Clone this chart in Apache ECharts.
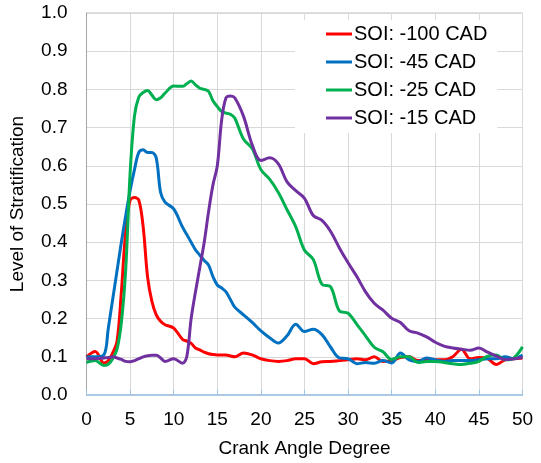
<!DOCTYPE html>
<html>
<head>
<meta charset="utf-8">
<script src="https://cdn.jsdelivr.net/npm/echarts@6/dist/echarts.min.js"></script>
<style>html,body{margin:0;padding:0;background:#fff;}#c{width:541px;height:463px;}</style>
</head>
<body>
<div id="c"></div>
<script>
var seriesNames = ['SOI: -100 CAD', 'SOI: -45 CAD', 'SOI: -25 CAD', 'SOI: -15 CAD'];
var cad = [0,1,2,2.5,3,3.5,4,4.5,5,5.5,6,6.5,7,7.5,8,8.5,9,10,11,11.5,12,12.5,13,13.5,14,14.5,15,15.5,16,16.5,17,18,19,20,21,22,23,24,25,26,27,28,29,30,31,32,33,34,35,36,37,38,39,40,41,42,43,44,45,46,47,48,49,50];
var soi100 = [0.10,0.114,0.084,0.09,0.11,0.14,0.27,0.43,0.51,0.517,0.51,0.44,0.31,0.245,0.21,0.193,0.184,0.175,0.146,0.141,0.135,0.123,0.118,0.112,0.108,0.106,0.105,0.105,0.105,0.102,0.10,0.11,0.105,0.095,0.09,0.088,0.09,0.095,0.095,0.082,0.087,0.088,0.09,0.092,0.095,0.092,0.10,0.088,0.09,0.098,0.10,0.09,0.092,0.092,0.092,0.10,0.12,0.095,0.098,0.095,0.08,0.092,0.095,0.097];
var soi45 = [0.10,0.10,0.105,0.175,0.25,0.325,0.40,0.47,0.535,0.59,0.635,0.642,0.635,0.635,0.62,0.53,0.505,0.487,0.44,0.42,0.40,0.38,0.366,0.352,0.34,0.31,0.288,0.28,0.27,0.25,0.23,0.21,0.19,0.168,0.15,0.136,0.155,0.185,0.166,0.172,0.158,0.125,0.097,0.095,0.082,0.085,0.083,0.09,0.084,0.11,0.092,0.088,0.097,0.092,0.088,0.09,0.09,0.09,0.092,0.095,0.095,0.10,0.095,0.105];
var soi25 = [0.085,0.09,0.077,0.08,0.095,0.12,0.19,0.33,0.58,0.73,0.78,0.792,0.797,0.785,0.773,0.778,0.79,0.809,0.808,0.815,0.822,0.812,0.803,0.80,0.795,0.77,0.755,0.742,0.738,0.735,0.725,0.67,0.645,0.59,0.565,0.53,0.485,0.44,0.379,0.355,0.29,0.283,0.22,0.214,0.185,0.155,0.125,0.113,0.093,0.10,0.10,0.085,0.088,0.088,0.085,0.082,0.08,0.083,0.088,0.102,0.105,0.092,0.097,0.126];
var soi15 = [0.095,0.095,0.097,0.098,0.10,0.097,0.093,0.088,0.087,0.09,0.095,0.10,0.103,0.104,0.104,0.097,0.088,0.095,0.083,0.10,0.20,0.27,0.335,0.40,0.48,0.55,0.60,0.72,0.778,0.783,0.778,0.73,0.655,0.614,0.621,0.605,0.558,0.535,0.515,0.47,0.457,0.428,0.385,0.346,0.31,0.27,0.24,0.222,0.201,0.19,0.168,0.162,0.152,0.138,0.128,0.123,0.12,0.117,0.123,0.112,0.102,0.093,0.095,0.098];
var colors = ['#ff0000', '#0070c0', '#00b050', '#7030a0'];
var xTicks = [0,5,10,15,20,25,30,35,40,45,50];

function pairs(v){ return cad.map(function(x,i){ return [x, v[i]]; }); }
var allVals = [soi100, soi45, soi25, soi15];

var chart = echarts.init(document.getElementById('c'), null, {renderer:'canvas'});
var FONT = 'Liberation Sans, Arial, sans-serif';
chart.setOption({
  animation: false,
  backgroundColor: '#ffffff',
  color: colors,
  grid: {left: 86.5, right: 18.5, top: 13, bottom: 66, show: true, borderColor: '#bfbfbf', borderWidth: 1, backgroundColor: 'transparent'},
  legend: {
    orient: 'vertical', left: 295, top: 20,
    padding: [4, 10, 5, 31],
    backgroundColor: '#ffffff',
    itemWidth: 26, itemHeight: 3, itemGap: 8, icon: 'rect',
    textStyle: {fontFamily: FONT, fontSize: 20, color: '#000', lineHeight: 20, padding: [0,0,0,-3]},
    data: seriesNames
  },
  xAxis: {
    type: 'value', min: 0, max: 50, interval: 5,
    name: 'Crank Angle Degree', nameLocation: 'middle', nameGap: 44,
    nameTextStyle: {fontFamily: FONT, fontSize: 19, color: '#000'},
    axisLine: {show: true, onZero: false, lineStyle: {color: '#9dc3e6', width: 1.5}},
    axisTick: {show: true, inside: true, length: 5, lineStyle: {color: '#9dc3e6'}},
    axisLabel: {fontFamily: FONT, fontSize: 19, color: '#000', margin: 15, customValues: xTicks},
    splitLine: {show: true, lineStyle: {color: '#d9d9d9', width: 1}}
  },
  yAxis: {
    type: 'value', min: 0, max: 1, interval: 0.1,
    name: 'Level of Stratification', nameLocation: 'middle', nameGap: 59,
    nameTextStyle: {fontFamily: FONT, fontSize: 19, color: '#000'},
    axisLine: {show: true, lineStyle: {color: '#a6a6a6', width: 1}},
    axisTick: {show: false},
    axisLabel: {fontFamily: FONT, fontSize: 19, color: '#000', margin: 19, formatter: function(v){ return v.toFixed(1); }},
    splitLine: {show: true, lineStyle: {color: '#d9d9d9', width: 1}}
  },
  series: seriesNames.map(function(n, i){
    return {
      name: n, type: 'line', data: pairs(allVals[i]), smooth: 0.35,
      symbol: 'none', lineStyle: {width: 3, color: colors[i]}, itemStyle: {color: colors[i]}, z: 2 + i
    };
  })
});
</script>
</body>
</html>
